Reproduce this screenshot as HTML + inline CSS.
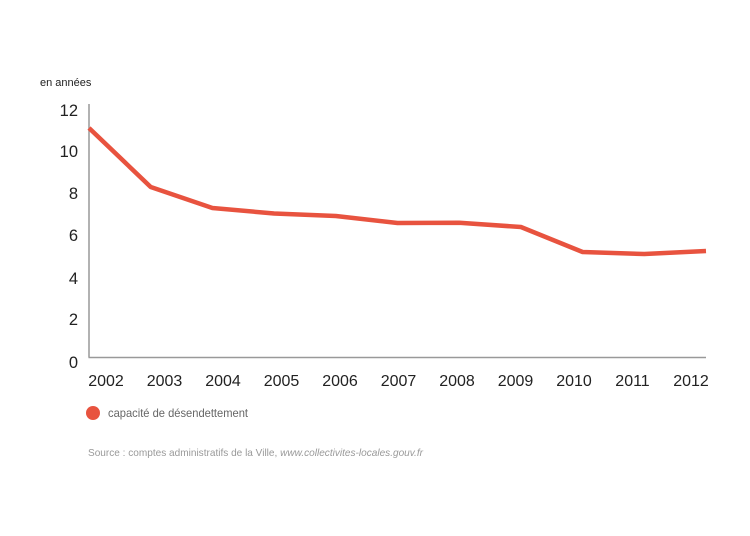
<!DOCTYPE html>
<html><head><meta charset="utf-8"><style>
html,body{margin:0;padding:0;background:#fff;}
body{width:750px;height:536px;overflow:hidden;position:relative;font-family:"Liberation Sans","DejaVu Sans",sans-serif;}
</style></head><body>
<svg width="750" height="536" viewBox="0 0 750 536" xmlns="http://www.w3.org/2000/svg" style="position:absolute;left:0;top:0">
<text x="40" y="86" font-size="11" fill="#222" font-family="Liberation Sans, sans-serif">en années</text>
<g font-size="16.5" fill="#222" text-anchor="end" font-family="Liberation Sans, sans-serif">
<text x="78" y="116">12</text>
<text x="78" y="157">10</text>
<text x="78" y="199">8</text>
<text x="78" y="241">6</text>
<text x="78" y="284">4</text>
<text x="78" y="325">2</text>
<text x="78" y="368">0</text>
</g>
<line x1="89" y1="104" x2="89" y2="357.5" stroke="#999" stroke-width="1.5"/>
<line x1="88.5" y1="357.5" x2="706" y2="357.5" stroke="#999" stroke-width="1.5"/>
<polyline fill="none" stroke="#e8533f" stroke-width="4.5" stroke-linejoin="round" points="89,128 150.7,187 212.4,208 274.1,213.5 335.8,216 397.5,223 459.2,222.8 520.9,227 582.6,252 644.3,254 706,251"/>
<g font-size="16" fill="#222" text-anchor="middle" font-family="Liberation Sans, sans-serif">
<text x="106" y="386">2002</text>
<text x="164.5" y="386">2003</text>
<text x="223" y="386">2004</text>
<text x="281.5" y="386">2005</text>
<text x="340" y="386">2006</text>
<text x="398.5" y="386">2007</text>
<text x="457" y="386">2008</text>
<text x="515.5" y="386">2009</text>
<text x="574" y="386">2010</text>
<text x="632.5" y="386">2011</text>
<text x="691" y="386">2012</text>
</g>
<circle cx="93" cy="413" r="7" fill="#e8533f"/>
<text x="108" y="417" font-size="12" fill="#666" font-family="Liberation Sans, sans-serif" textLength="140" lengthAdjust="spacingAndGlyphs">capacité de désendettement</text>
<text x="88" y="456" font-size="10.5" fill="#999" font-family="Liberation Sans, sans-serif" textLength="335" lengthAdjust="spacingAndGlyphs">Source : comptes administratifs de la Ville, <tspan font-style="italic">www.collectivites-locales.gouv.fr</tspan></text>
</svg>
</body></html>
